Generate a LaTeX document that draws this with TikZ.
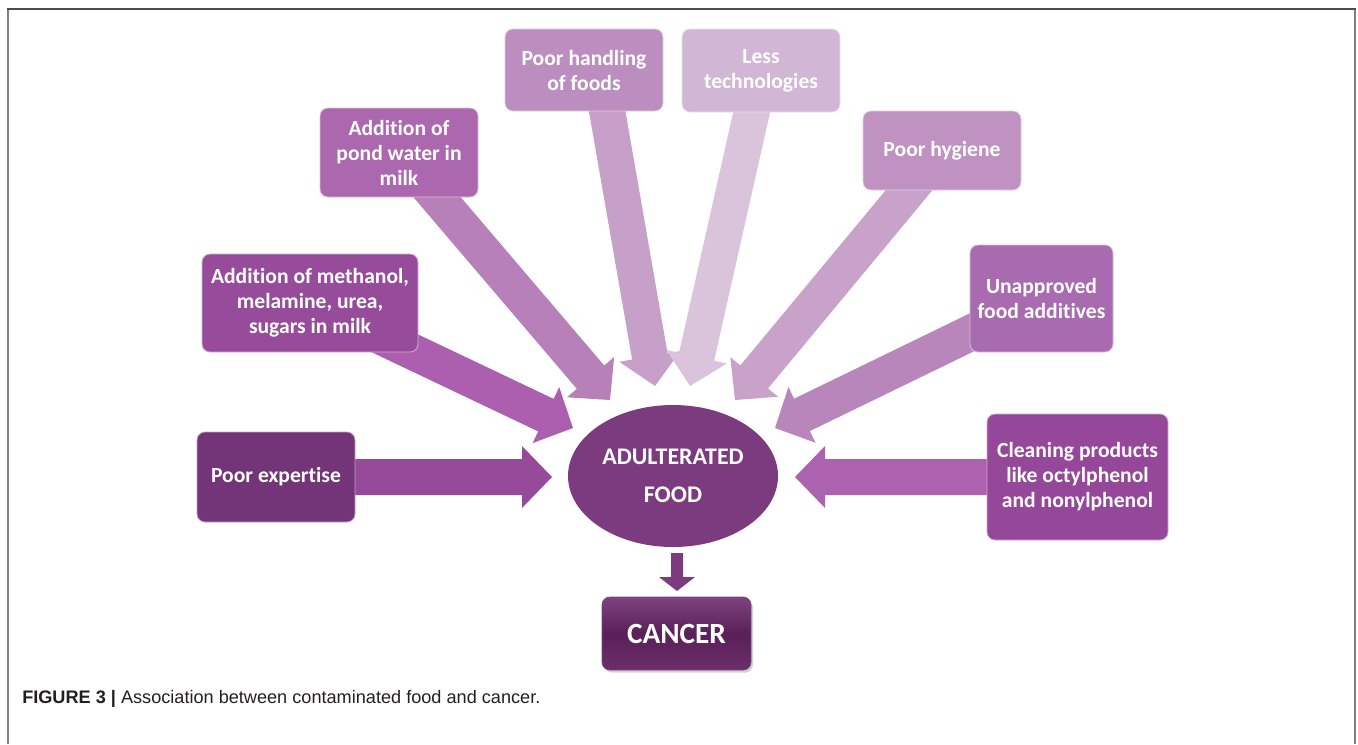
\documentclass[tikz,border=0pt]{standalone}
\usepackage{fontspec}
\setmainfont{Carlito}[Ligatures=NoCommon]
\newfontfamily\capfont{Liberation Sans}
\usetikzlibrary{calc,backgrounds,shadows,shapes.geometric}

\definecolor{cPE}{HTML}{733578}
\definecolor{cME}{HTML}{974C9B}
\definecolor{cPW}{HTML}{AB68AE}
\definecolor{cPH}{HTML}{BC8EC0}
\definecolor{cLT}{HTML}{D2B6D5}
\definecolor{cHY}{HTML}{BF92C2}
\definecolor{cUA}{HTML}{A96BB0}
\definecolor{cCL}{HTML}{954899}
\definecolor{cEL}{HTML}{7C3A7F}
\definecolor{aPE}{HTML}{974A9A}
\definecolor{aME}{HTML}{AB5FAE}
\definecolor{aPW}{HTML}{B780B9}
\definecolor{aPH}{HTML}{C7A0C9}
\definecolor{aLT}{HTML}{DAC4DC}
\definecolor{aHY}{HTML}{C8A2C9}
\definecolor{aUA}{HTML}{B986BB}
\definecolor{aCL}{HTML}{AC62AF}
\definecolor{caT}{HTML}{7E437E}
\definecolor{caM}{HTML}{5A2058}
\definecolor{caB}{HTML}{6B2E6A}
\definecolor{capcol}{HTML}{231F20}

% #1 colour, #2 tail, #3 tip, #4 shaft half width, #5 head half width, #6 head length
\newcommand{\blockarr}[6]{%
  \coordinate (hb) at ($(#3)!#6!(#2)$);
  \fill[#1] ($(#2)!#4!90:(#3)$) -- ($(hb)!#4!-90:(#2)$) -- ($(hb)!#5!-90:(#2)$)
    -- (#3) -- ($(hb)!#5!90:(#2)$) -- ($(hb)!#4!90:(#2)$) -- ($(#2)!#4!-90:(#3)$) -- cycle;
}

\begin{document}
\begin{tikzpicture}[x=0.75pt,y=-0.75pt,
  box/.style={rounded corners=6pt, draw=white!55!#1, line width=0.6pt, fill=#1,
    text=white, font=\bfseries\fontsize{16.2}{18.75}\selectfont, align=center, inner sep=0pt},
]
\useasboundingbox (0,0) rectangle (1358,744);

% frame
\draw[line width=1.5pt, color=black!50] (7.5,744) -- (7.5,8.5);
\draw[line width=1.5pt, color=black!50] (1355,8.5) -- (1355,744);
\draw[line width=1.5pt, color=black!70] (7,8.5) -- (1355.7,8.5);

% boxes
\node[box=cPE, minimum width=118.5pt, minimum height=67.5pt] (pe) at (276,477) {Poor expertise};
\node[box=cME, minimum width=162pt, minimum height=73.5pt] (me) at (310,303) {Addition of methanol,\\melamine, urea,\\sugars in milk};
\node[box=cPW, minimum width=118.5pt, minimum height=66.75pt] (pw) at (399,152.5) {Addition of\\pond water in\\milk};
\node[box=cPH, minimum width=118.5pt, minimum height=61.5pt] (ph) at (584,70) {Poor handling\\of foods};
\node[box=cLT, minimum width=118.5pt, minimum height=62.25pt] (lt) at (761,70.5) {Less\\technologies};
\node[box=cHY, minimum width=118.5pt, minimum height=59.25pt] (hy) at (942,150.5) {Poor hygiene};
\node[box=cUA, minimum width=107.25pt, minimum height=80.25pt] (ua) at (1041.5,298.5) {Unapproved\\food additives};
\node[box=cCL, minimum width=135.75pt, minimum height=94.5pt] (cl) at (1077.5,477) {Cleaning products\\like octylphenol\\and nonylphenol};

\node[ellipse, fill=cEL, minimum width=157.5pt, minimum height=106.5pt, inner sep=0pt,
  text=white, font=\bfseries\fontsize{17.9}{28.5}\selectfont, align=center] (el) at (673,476) {ADULTERATED\\FOOD};

\node[rounded corners=6pt, minimum width=111.75pt, minimum height=54.75pt, inner sep=0pt,
  top color=caT, bottom color=caB, middle color=caM, draw=caT, line width=0.6pt,
  drop shadow={shadow xshift=1.5pt, shadow yshift=-2pt, opacity=0.35},
  text=white, font=\bfseries\fontsize{22}{26}\selectfont] (ca) at (676.5,633.5) {CANCER};

% arrow end points
\coordinate (tPE) at (552,477);
\coordinate (tME) at (573,428);
\coordinate (tPW) at (610,400);
\coordinate (sPH) at (600,70);
\coordinate (tPH) at (655,386);
\coordinate (tLT) at (690,386);
\coordinate (tHY) at (735,400);
\coordinate (tUA) at (775,428);
\coordinate (tCL) at (795,477);
\coordinate (sDN) at (677,553);
\coordinate (tDN) at (677,591);

\begin{scope}[on background layer]
  \blockarr{aPE}{pe.center}{tPE}{13.5pt}{23.25pt}{22.5pt}
  \blockarr{aME}{me.center}{tME}{13.5pt}{23.25pt}{22.5pt}
  \blockarr{aPW}{pw.center}{tPW}{13.5pt}{23.25pt}{22.5pt}
  \blockarr{aPH}{sPH}{tPH}{13.5pt}{23.25pt}{22.5pt}
  \blockarr{aLT}{lt.center}{tLT}{13.5pt}{23.25pt}{22.5pt}
  \blockarr{aHY}{hy.center}{tHY}{13.5pt}{23.25pt}{22.5pt}
  \blockarr{aUA}{ua.center}{tUA}{13.5pt}{23.25pt}{22.5pt}
  \blockarr{aCL}{cl.center}{tCL}{13.5pt}{23.25pt}{22.5pt}
  \blockarr{cEL}{sDN}{tDN}{4.5pt}{13.5pt}{10.5pt}
\end{scope}

% caption
\node[anchor=base west, inner sep=0pt, text=capcol, font=\capfont\fontsize{13.6}{16}\selectfont] (cap) at (22,703)
  {\textbf{FIGURE 3 |} Association between contaminated food and cancer.};
\end{tikzpicture}
\end{document}
